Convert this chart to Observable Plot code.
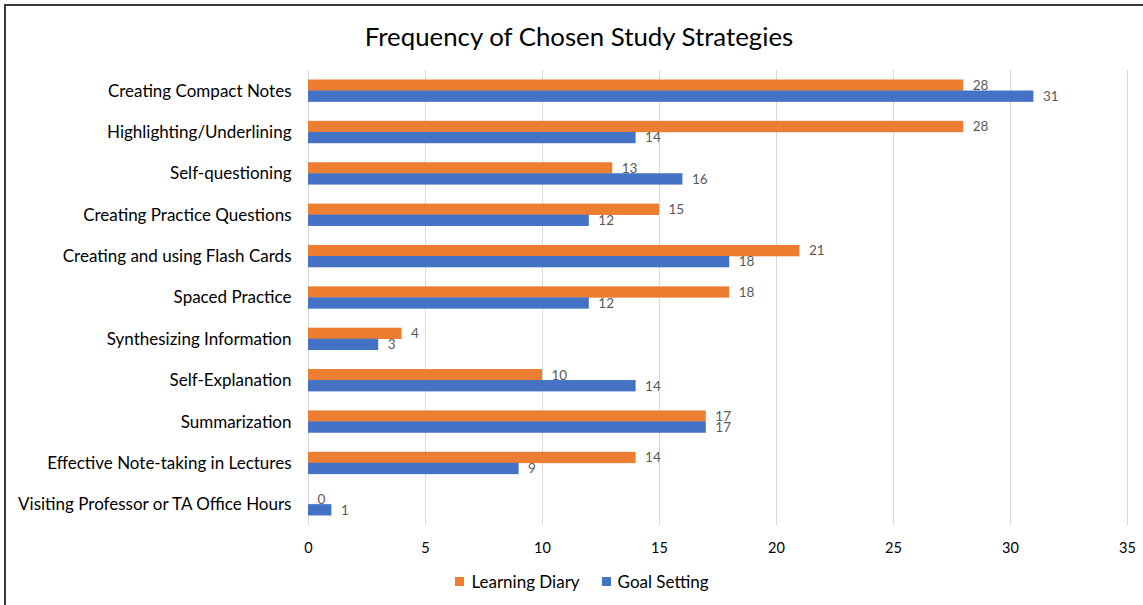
<!DOCTYPE html>
<html>
<head>
<meta charset="utf-8">
<script src="https://cdn.jsdelivr.net/npm/d3@7"></script>
<script src="https://cdn.jsdelivr.net/npm/@observablehq/plot@0.6"></script>
<style>
  body { margin: 0; background: #fff; font-family: Lato, "Open Sans", sans-serif; }
  #frame { position: absolute; left: 4px; top: 4px; width: 1139px; height: 601px;
           border-left: 2px solid #3a3a3a; border-top: 2px solid #3a3a3a; box-sizing: border-box; }
  #title { position: absolute; left: 0; top: 20px; width: 1143px; text-align: center;
           font-size: 25.8px; line-height: 32px; color: #000; padding-left: 15px; box-sizing: border-box; }
  #chart { position: absolute; left: 0; top: 62px; }
  #legend { position: absolute; left: 0; top: 570px; width: 1143px; text-align: center;
            font-size: 17px; line-height: 20px; color: #000; padding-left: 21px; box-sizing: border-box; }
  .key { display: inline-flex; align-items: center; margin: 0 11px; }
  .swatch { display: inline-block; width: 9px; height: 9px; margin-right: 7px; }
</style>
</head>
<body>
<div id="frame"></div>
<div id="title">Frequency of Chosen Study Strategies</div>
<div id="chart"></div>
<div id="legend"></div>
<script>
// Strategies, top to bottom
const categories = [
  "Creating Compact Notes",
  "Highlighting/Underlining",
  "Self-questioning",
  "Creating Practice Questions",
  "Creating and using Flash Cards",
  "Spaced Practice",
  "Synthesizing Information",
  "Self-Explanation",
  "Summarization",
  "Effective Note-taking in Lectures",
  "Visiting Professor or TA Office Hours"
];
const learningDiary = [28, 28, 13, 15, 21, 18, 4, 10, 17, 14, 0];
const goalSetting   = [31, 14, 16, 12, 18, 12, 3, 14, 17, 9, 1];
const seriesNames = ["Learning Diary", "Goal Setting"];
const seriesColors = ["#ED7D31", "#4472C4"];
const xTicks = [0, 5, 10, 15, 20, 25, 30, 35];

const diaryRows = categories.map((c, i) => ({category: c, value: learningDiary[i]}));
const goalRows = categories.map((c, i) => ({category: c, value: goalSetting[i]}));

const half = 11; // each series takes one half of the band

const chart = Plot.plot({
  width: 1143,
  height: 500,
  marginLeft: 308,
  marginRight: 16,
  marginTop: 8,
  marginBottom: 37,
  style: {fontFamily: "Lato, 'Open Sans', sans-serif", color: "#000", background: "transparent"},
  x: {domain: [0, 35], ticks: xTicks, label: null},
  y: {domain: categories, paddingInner: 0.46, paddingOuter: 0.23, round: false, label: null},
  marks: [
    Plot.gridX(xTicks, {stroke: "#d9d9d9", strokeOpacity: 1, strokeWidth: 1}),
    Plot.barX(diaryRows, {x: "value", y: "category", fill: seriesColors[0], insetBottom: half}),
    Plot.barX(goalRows, {x: "value", y: "category", fill: seriesColors[1], insetTop: half}),
    Plot.text(diaryRows, {x: "value", y: "category", text: d => String(d.value), dx: 9, dy: -half / 2,
      textAnchor: "start", fontSize: 13.5, fill: "#595959"}),
    Plot.text(goalRows, {x: "value", y: "category", text: d => String(d.value), dx: 9, dy: half / 2,
      textAnchor: "start", fontSize: 13.5, fill: "#595959"}),
    Plot.axisY({tickSize: 0, tickPadding: 17, fontSize: 17, label: null}),
    Plot.axisX(xTicks, {tickSize: 0, tickPadding: 17, fontSize: 14.5, label: null})
  ]
});
document.getElementById("chart").appendChild(chart);

// Legend below the chart
const legend = document.getElementById("legend");
seriesNames.forEach((name, i) => {
  const key = document.createElement("span");
  key.className = "key";
  const sw = document.createElement("span");
  sw.className = "swatch";
  sw.style.background = seriesColors[i];
  key.appendChild(sw);
  key.appendChild(document.createTextNode(name));
  legend.appendChild(key);
});
</script>
</body>
</html>
